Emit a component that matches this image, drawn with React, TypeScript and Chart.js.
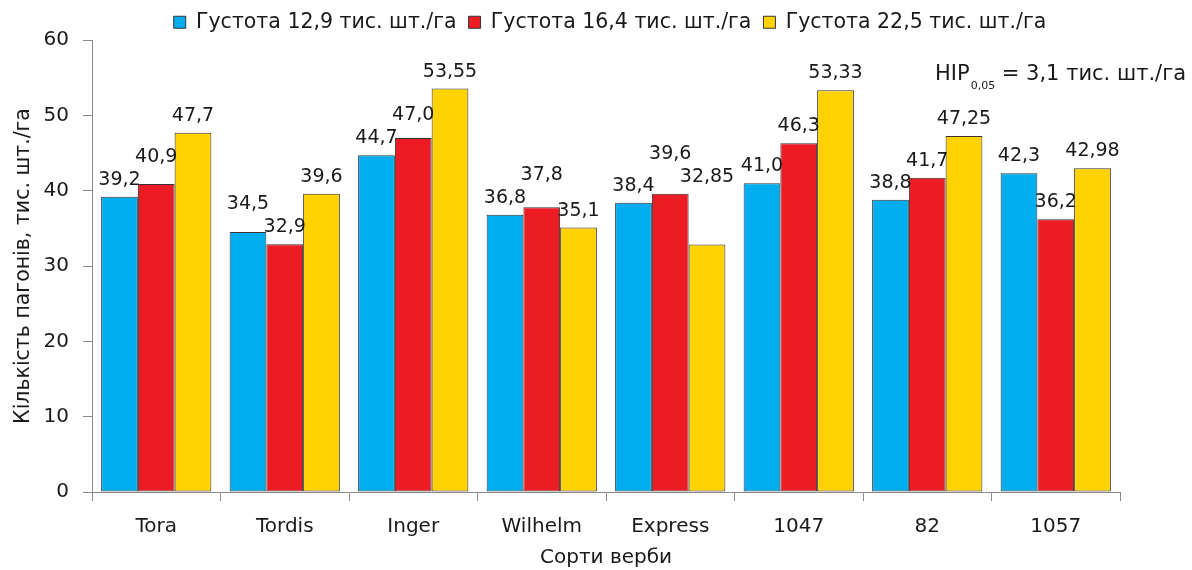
import React, { useEffect, useRef } from 'react';
import { Chart, registerables } from 'chart.js';

Chart.register(...registerables);

const categories = ['Tora', 'Tordis', 'Inger', 'Wilhelm', 'Express', '1047', '82', '1057'];
const seriesNames = [
  'Густота 12,9 тис. шт./га',
  'Густота 16,4 тис. шт./га',
  'Густота 22,5 тис. шт./га',
];
const density129 = [39.2, 34.5, 44.7, 36.8, 38.4, 41.0, 38.8, 42.3];
const density164 = [40.9, 32.9, 47.0, 37.8, 39.6, 46.3, 41.7, 36.2];
const density225 = [47.7, 39.6, 53.55, 35.1, 32.85, 53.33, 47.25, 42.98];
const labels129 = ['39,2', '34,5', '44,7', '36,8', '38,4', '41,0', '38,8', '42,3'];
const labels164 = ['40,9', '32,9', '47,0', '37,8', '39,6', '46,3', '41,7', '36,2'];
const labels225 = ['47,7', '39,6', '53,55', '35,1', '32,85', '53,33', '47,25', '42,98'];
const yTicks = [0, 10, 20, 30, 40, 50, 60];
const yTitle = 'Кількість пагонів, тис. шт./га';
const xTitle = 'Сорти верби';
const noteMain = 'HIP';
const noteSub = '0,05';
const noteRest = ' = 3,1 тис. шт./га';

const COLORS = ['#00aeef', '#ed1c24', '#ffd200'];
const FONT = "'DejaVu Sans', sans-serif";
const TEXT = '#1a1a1a';
const AXIS = '#8a8a8a';

const valueLabelPlugin = {
  id: 'valueLabels',
  afterDatasetsDraw(chart: any) {
    const ctx = chart.ctx;
    const labelSets = [labels129, labels164, labels225];
    ctx.save();
    ctx.font = `19px ${FONT}`;
    ctx.fillStyle = TEXT;
    ctx.textAlign = 'center';
    ctx.textBaseline = 'middle';
    const nCat = categories.length;
    for (let i = 0; i < nCat; i++) {
      const bars = labelSets.map((_, d) => chart.getDatasetMeta(d).data[i]);
      const pos = bars.map((el: any, d: number) => {
        const w = ctx.measureText(labelSets[d][i]).width;
        const l = el.x - (w - 8) / 2;
        const r = el.x + (w - 8) / 2;
        let top = el.y;
        bars.forEach((b: any) => {
          const bl = b.x - b.width / 2;
          const br = b.x + b.width / 2;
          if (br > l && bl < r) top = Math.min(top, b.y);
        });
        return { x: el.x, w, y: top - 17, v: chart.data.datasets[d].data[i] };
      });
      for (let d = 1; d < pos.length; d++) {
        const a = pos[d - 1];
        const b = pos[d];
        const hOverlap = a.x + a.w / 2 > b.x - b.w / 2;
        if (hOverlap && Math.abs(a.y - b.y) < 18) {
          if (b.v >= a.v) b.y = Math.min(b.y, a.y - 23);
          else a.y = Math.min(a.y, b.y - 23);
        }
      }
      for (let d = 0; d < pos.length; d++) {
        ctx.fillText(labelSets[d][i], pos[d].x, pos[d].y);
      }
    }
    ctx.restore();
  },
};

const notePlugin = {
  id: 'noteText',
  afterDraw(chart: any) {
    const ctx = chart.ctx;
    ctx.save();
    ctx.fillStyle = TEXT;
    ctx.textBaseline = 'alphabetic';
    ctx.textAlign = 'left';
    let x = 935;
    const base = 80;
    ctx.font = `21px ${FONT}`;
    ctx.fillText(noteMain, x, base);
    x += ctx.measureText(noteMain).width + 1;
    ctx.font = `11px ${FONT}`;
    ctx.fillText(noteSub, x, base + 9);
    x += ctx.measureText(noteSub).width;
    ctx.font = `21px ${FONT}`;
    ctx.fillText(noteRest, x, base);
    ctx.restore();
  },
};

const legendFitPlugin = {
  id: 'legendFit',
  beforeLayout(chart: any) {
    const lg = chart.legend;
    if (lg && !lg.__patched) {
      const orig = lg.fit.bind(lg);
      lg.fit = function () {
        orig();
        this.height = 40;
      };
      lg.__patched = true;
    }
  },
  beforeDraw(chart: any) {
    if (chart.legend) {
      chart.legend.left = 28;
      chart.legend.right = chart.width;
    }
  },
};

export default function App() {
  const ref = useRef<HTMLCanvasElement | null>(null);

  useEffect(() => {
    document.body.style.margin = '0';
    const canvas = ref.current;
    if (!canvas) return;
    const datasets = [density129, density164, density225].map((vals, k) => ({
      label: seriesNames[k],
      data: vals,
      backgroundColor: COLORS[k],
      borderColor: '#333333',
      borderWidth: 1,
      borderSkipped: false,
      categoryPercentage: 0.858,
      barPercentage: 1.0,
    }));
    const chart = new Chart(canvas, {
      type: 'bar',
      data: { labels: categories, datasets },
      plugins: [valueLabelPlugin, notePlugin, legendFitPlugin],
      options: {
        responsive: false,
        animation: false,
        devicePixelRatio: 1,
        layout: { padding: { top: 0, right: 72, left: 0, bottom: 0 } },
        plugins: {
          tooltip: { enabled: false },
          legend: {
            position: 'top',
            labels: {
              boxWidth: 12,
              boxHeight: 12,
              padding: 12,
              color: TEXT,
              font: { family: FONT, size: 20.5 },
            },
          },
        },
        scales: {
          x: {
            offset: true,
            grid: { display: true, drawOnChartArea: false, offset: true, tickLength: 9, color: AXIS },
            border: { display: true, color: AXIS, width: 1 },
            ticks: { color: TEXT, font: { family: FONT, size: 20 }, padding: 14, maxRotation: 0 },
            title: {
              display: true,
              text: xTitle,
              color: TEXT,
              font: { family: FONT, size: 20 },
              padding: { top: 0, bottom: 0 },
            },
            afterFit(scale: any) {
              scale.height = 78;
            },
          },
          y: {
            min: 0,
            max: 60,
            afterBuildTicks(scale: any) {
              scale.ticks = yTicks.map((v) => ({ value: v }));
            },
            grid: { display: true, drawOnChartArea: false, tickLength: 9, color: AXIS },
            border: { display: true, color: AXIS, width: 1 },
            ticks: { color: TEXT, font: { family: FONT, size: 20 }, padding: 14 },
            title: {
              display: true,
              text: yTitle,
              color: TEXT,
              font: { family: FONT, size: 20.5 },
              padding: { top: 11, bottom: 0 },
            },
            afterFit(scale: any) {
              scale.width = 92;
            },
          },
        },
      },
    } as any);
    return () => chart.destroy();
  }, []);

  return (
    <div style={{ width: 1192, height: 570 }}>
      <canvas ref={ref} width={1192} height={570} style={{ display: 'block' }} />
    </div>
  );
}
